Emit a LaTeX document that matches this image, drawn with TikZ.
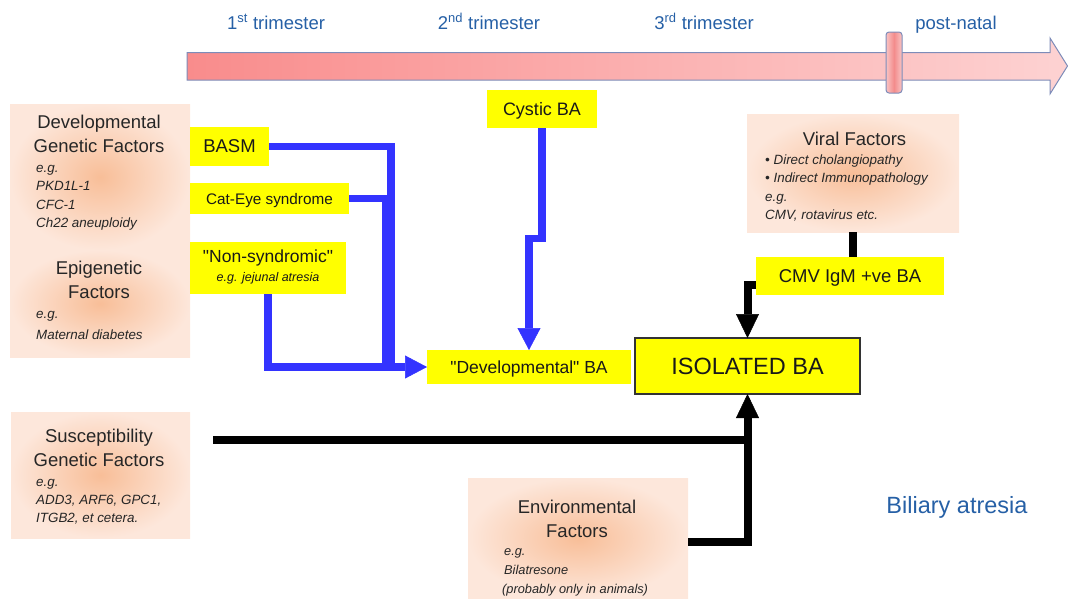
\documentclass[tikz,border=0pt]{standalone}
\usepackage{fontspec}
\setmainfont{Liberation Sans}
\usetikzlibrary{arrows.meta}
\definecolor{peachin}{RGB}{248,190,152}
\definecolor{peachout}{RGB}{253,231,219}
\definecolor{bayel}{RGB}{255,255,0}
\definecolor{bablue}{RGB}{51,51,255}
\definecolor{tlblue}{RGB}{38,96,166}
\definecolor{tlleft}{RGB}{249,140,140}
\definecolor{tlright}{RGB}{253,210,210}
\definecolor{tlborder}{RGB}{125,140,185}
\definecolor{bandedge}{RGB}{249,196,196}
\definecolor{bandmid}{RGB}{243,140,140}
\newcommand{\hdlines}[1]{\begin{tabular}[t]{@{}c@{}}#1\end{tabular}}
\newcommand{\dtlines}[1]{\begin{tabular}[t]{@{}l@{}}#1\end{tabular}}
\begin{document}
\begin{tikzpicture}[x=1pt,y=-1pt,
  peach/.style={rectangle, inner sep=0pt, outer sep=0pt, inner color=peachin, outer color=peachout},
  hd/.style={anchor=base, inner sep=0pt, text=black!85, font={\fontsize{18.5}{24}\selectfont}},
  dt/.style={anchor=base west, inner sep=0pt, text=black!85, font={\fontsize{13.4}{18.5}\selectfont\itshape}},
  ybox/.style={rectangle, fill=bayel, inner sep=0pt, outer sep=0pt, text=black!90},
  flat/.style={text depth=0pt},
  bl/.style={draw=bablue, line width=7.5pt},
  blarrow/.style={bl, -{Triangle[length=22pt 0 0, width=23pt 0 0, line width=0.5pt]}},
  blk/.style={draw=black, line width=8pt},
  blkarrow/.style={blk, -{Triangle[length=24pt 0 0, width=23pt 0 0, line width=0.5pt]}},
  tl/.style={anchor=base, inner sep=0pt, text=tlblue, font={\fontsize{18.5}{20}\selectfont}}]
\useasboundingbox (0,0) rectangle (1068,600);

% timeline
\path[draw=tlborder, line width=1pt, left color=tlleft, right color=tlright]
  (187,52.5) -- (1050,52.5) -- (1050,38) -- (1067.5,66) -- (1050,94) -- (1050,80) -- (187,80) -- cycle;
\path[draw=tlborder, line width=1pt, rounded corners=3pt, left color=bandedge, right color=bandedge, middle color=bandmid]
  (886,32) rectangle (902,93);
\node[tl] (t1) at (276,29) {1\textsuperscript{st} trimester};
\node[tl] (t2) at (489,29) {2\textsuperscript{nd} trimester};
\node[tl] (t3) at (704,29) {3\textsuperscript{rd} trimester};
\node[tl] (t4) at (956,29) {post-natal};

% factor boxes
\node[peach, minimum width=180pt, minimum height=146pt] (devgen) at (100,177) {};
\node[peach, minimum width=180pt, minimum height=107pt] (epi) at (100,303.5) {};
\node[peach, minimum width=179pt, minimum height=126pt] (sus) at (100.5,475) {};
\node[peach, minimum width=220pt, minimum height=120pt] (env) at (578,538) {};
\node[peach, minimum width=212pt, minimum height=118pt] (viral) at (853,173) {};

\node[hd] (devgenh) at (99,128) {\hdlines{Developmental\\Genetic Factors}};
\node[dt] (devgend) at (36,172) {\dtlines{e.g.\\PKD1L-1\\CFC-1\\Ch22 aneuploidy}};
\node[hd] (epih) at (99,274) {\hdlines{Epigenetic\\Factors}};
\node[dt, font={\fontsize{13.4}{21}\selectfont\itshape}] (epid) at (36,318) {\dtlines{e.g.\\Maternal diabetes}};
\node[hd] (sush) at (99,442) {\hdlines{Susceptibility\\Genetic Factors}};
\node[dt, font={\fontsize{13.4}{18}\selectfont\itshape}] (susd) at (36,486) {\dtlines{e.g.\\ADD3, ARF6, GPC1,\\ITGB2, et cetera.}};
\node[hd] (envh) at (577,513) {\hdlines{Environmental\\Factors}};
\node[dt, font={\fontsize{12.8}{19}\selectfont\itshape}] (envd) at (502,555) {\dtlines{\hspace*{2pt}e.g.\\\hspace*{2pt}Bilatresone\\(probably only in animals)}};
\node[hd] (viralh) at (854.5,145) {\hdlines{Viral Factors}};
\node[dt] (virald) at (765,164) {\dtlines{\textbullet\ Direct cholangiopathy\\\textbullet\ Indirect Immunopathology\\e.g.\\CMV, rotavirus etc.}};

% yellow boxes
\node[ybox, flat, minimum width=79pt, minimum height=39pt, font={\fontsize{18.5}{20}\selectfont}] (basm) at (229.5,146.5) {BASM};
\node[ybox, flat, minimum width=159pt, minimum height=31pt, font={\fontsize{15.3}{18}\selectfont}] (cateye) at (269.5,198.5) {Cat-Eye syndrome};
\node[ybox, minimum width=156pt, minimum height=52pt, font={\fontsize{17.5}{19}\selectfont}] (nonsyn) at (268,268)
  {\hdlines{\textquotedbl Non-syndromic\textquotedbl\\{\fontsize{12.5}{19}\selectfont\itshape e.g. jejunal atresia}}};
\node[ybox, flat, minimum width=110pt, minimum height=38pt, font={\fontsize{18}{20}\selectfont}] (cystic) at (542,109) {Cystic BA};
\node[ybox, flat, minimum width=204pt, minimum height=34pt, font={\fontsize{17.5}{20}\selectfont}] (devba) at (529,367) {\textquotedbl Developmental\textquotedbl\ BA};
\node[ybox, flat, draw=black!80, line width=1.2pt, minimum width=225pt, minimum height=56pt, font={\fontsize{23.5}{26}\selectfont}] (iso) at (747.5,366) {ISOLATED BA};
\node[ybox, flat, minimum width=188pt, minimum height=38pt, font={\fontsize{18.5}{20}\selectfont}] (cmv) at (850,276) {CMV IgM +ve BA};

% blue connectors
\coordinate (basmJ) at (391,370.75);
\draw[bl] (basm.east) -| (basmJ);
\coordinate (catJ) at (386,370.75);
\draw[bl] (cateye.east) -| (catJ);
\draw[blarrow] (nonsyn.south) |- (devba.west);
\coordinate (cysJa) at (542,238.5);
\coordinate (cysJb) at (529,238.5);
\draw[blarrow] (cystic.south) -- (cysJa) -- (cysJb) -- (devba.north);

% black connectors
\draw[blk] (viral.south) -- (viral.south |- cmv.north);
\draw[blkarrow] ([yshift=-9pt]cmv.west) -| (iso.north);
\coordinate (susS) at (213,440);
\coordinate (susE) at (751.5,440);
\draw[blk] (susS) -- (susE);
\draw[blkarrow] ([yshift=-4pt]env.east) -| (iso.south);

\node[anchor=base, inner sep=0pt, text=tlblue, font={\fontsize{23.5}{26}\selectfont}] (biliary) at (957,513) {Biliary atresia};
\end{tikzpicture}
\end{document}
